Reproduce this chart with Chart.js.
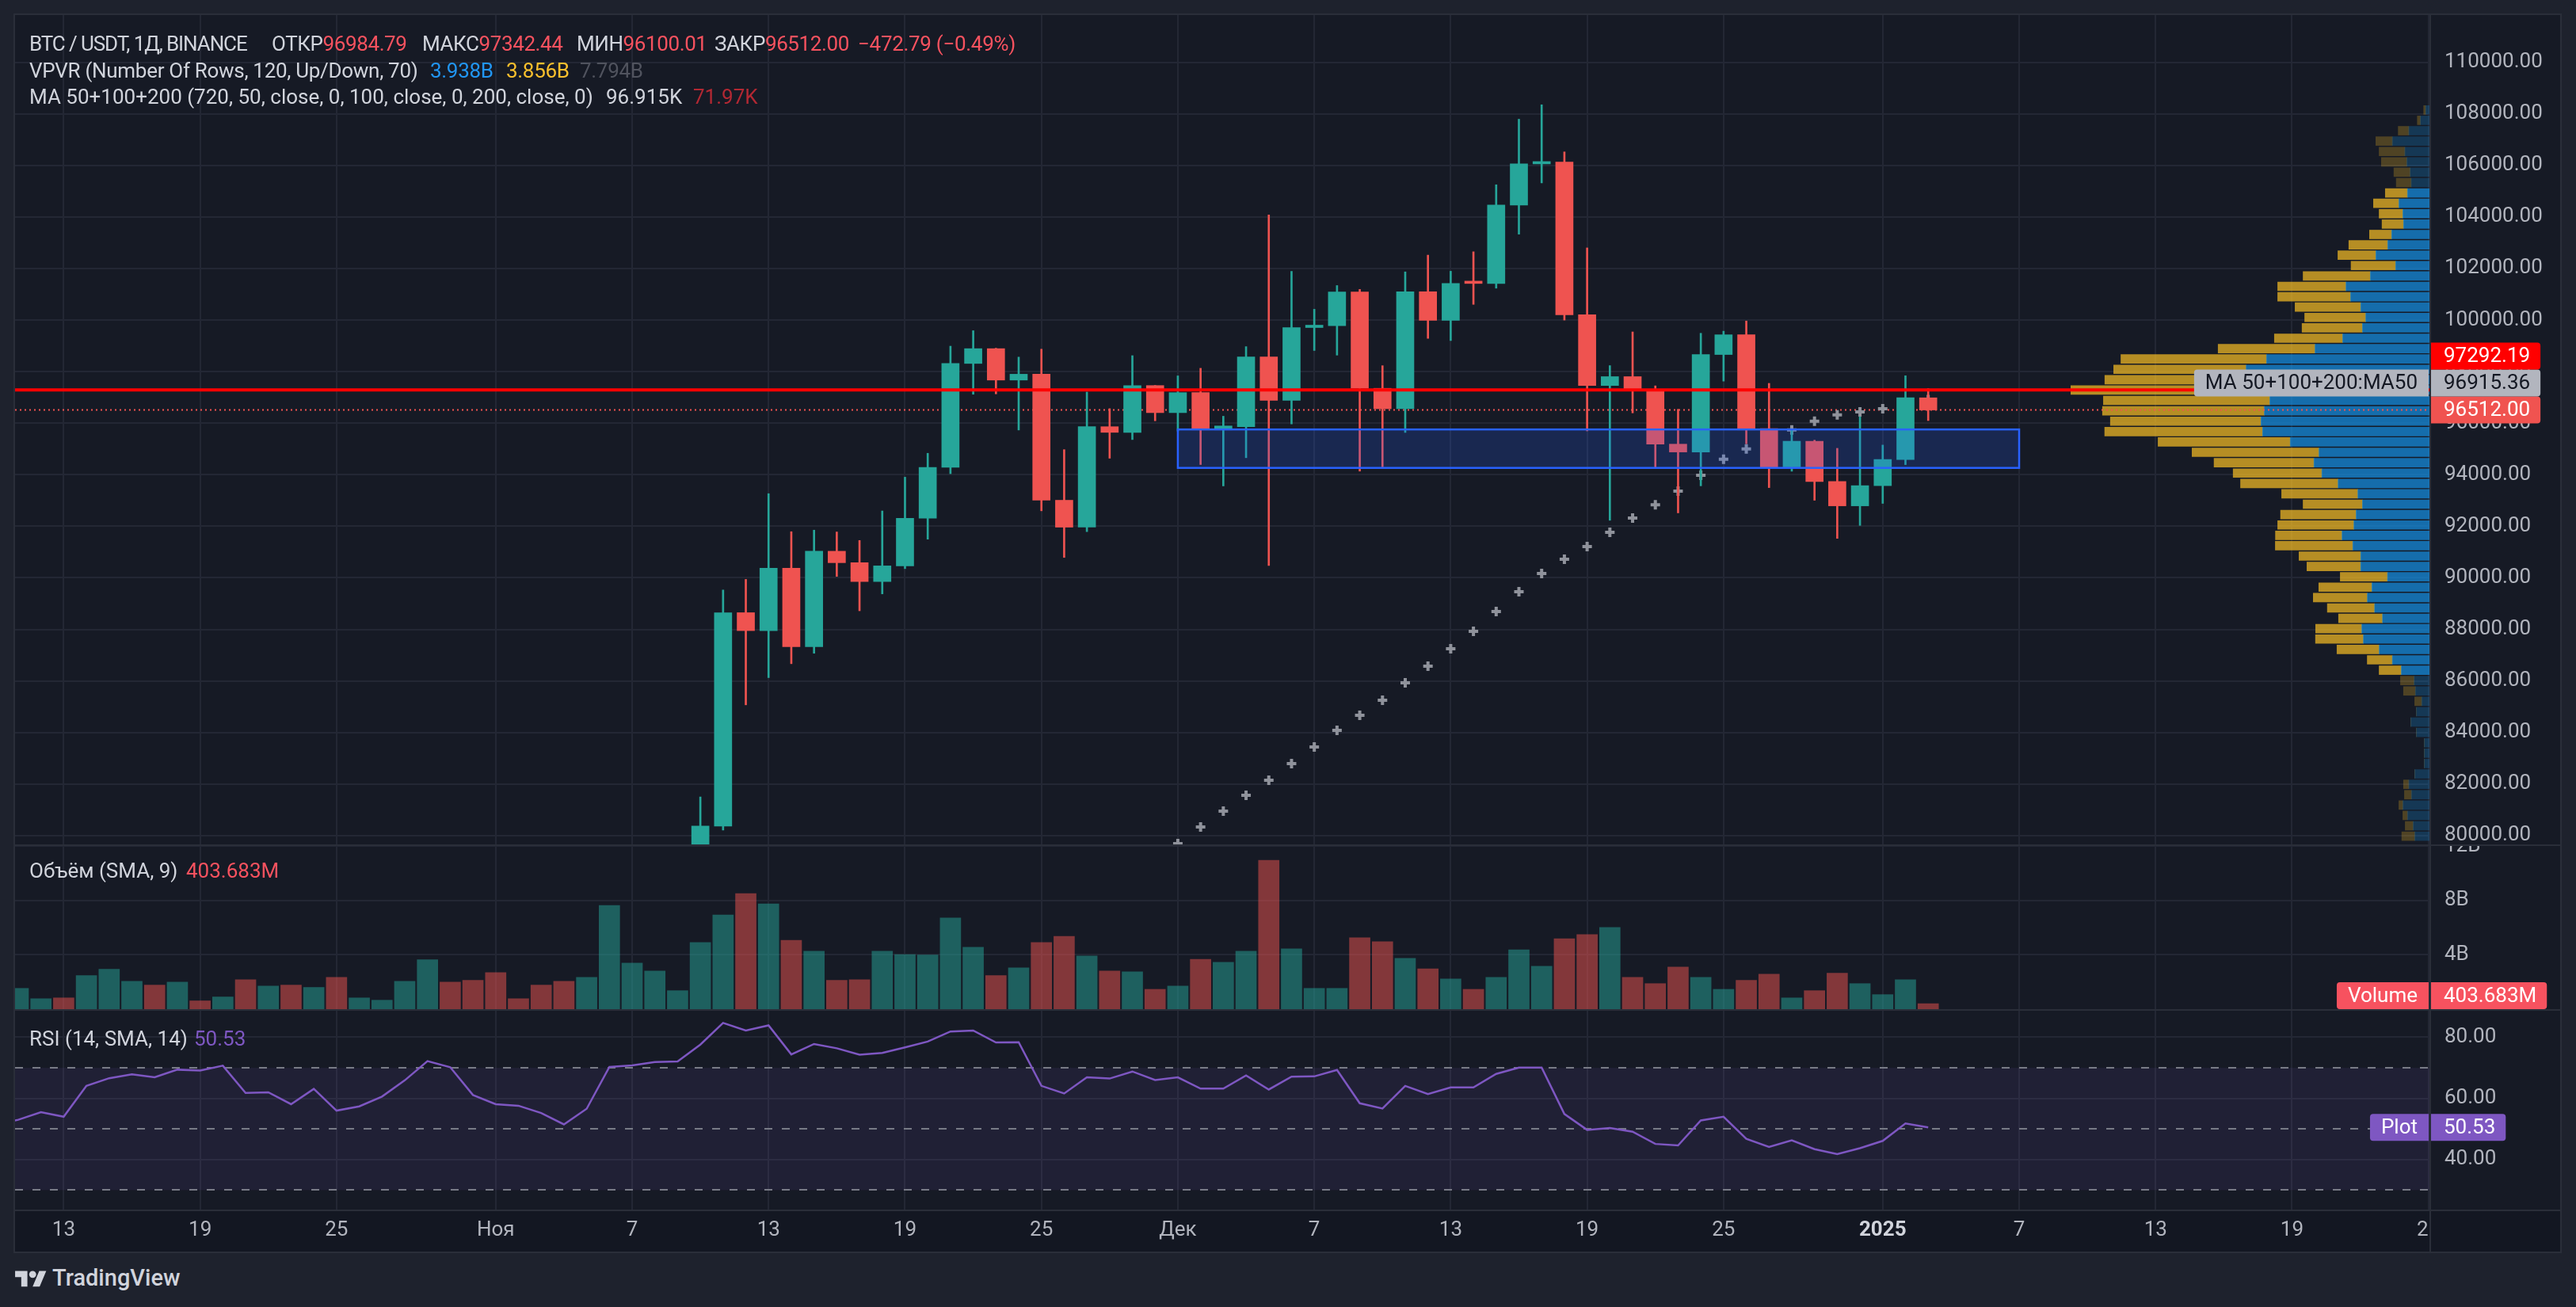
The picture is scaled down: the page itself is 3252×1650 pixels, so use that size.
<!DOCTYPE html>
<html lang="ru">
<head>
<meta charset="utf-8">
<title>BTC / USDT · 1Д · BINANCE</title>
<script src="https://cdn.jsdelivr.net/npm/chart.js@4.4.1/dist/chart.umd.min.js"></script>
<style>
  html, body { margin:0; padding:0; width:3252px; height:1650px; background:#1e222d; overflow:hidden; }
  body { position:relative; font-family: Roboto, "Noto Sans", "DejaVu Sans", sans-serif; }
  #frame { position:absolute; left:17px; top:17px; width:3217px; height:1565px; box-sizing:border-box; border:2px solid #2a2e39; background:#161a25; }
  #xstrip { position:absolute; left:19px; top:1529px; width:3213px; height:51px; background:#131722; }
  canvas { position:absolute; display:block; }
  .sep { position:absolute; background:#2a2e39; }
  .lg { position:absolute; left:0; font-size:26px; line-height:32px; color:#d1d4dc; white-space:pre; }
  .lg > span { position:absolute; top:0; }
  .lg i { font-style:normal; }
  .dn { color:#f7525f; }
  .bl { color:#2196f3; }
  .yl { color:#fbc02d; }
  .gr { color:#50535e; }
  .dr { color:#b22833; }
  .pu { color:#7e57c2; }
  #logo { position:absolute; left:19px; top:1600px; }
  #logotext { position:absolute; left:66px; top:1596px; font-size:29px; font-weight:500; color:#d1d4dc; }
</style>
</head>
<body>
<div id="frame"></div>
<div id="xstrip"></div>
<canvas id="priceChart" width="3213" height="1047" style="left:19px;top:19px;width:3213px;height:1047px"></canvas>
<canvas id="volumeChart" width="3213" height="206" style="left:19px;top:1068px;width:3213px;height:206px"></canvas>
<canvas id="rsiChart" width="3213" height="304" style="left:19px;top:1276px;width:3213px;height:304px"></canvas>
<div class="sep" style="left:19px;top:1066px;width:3213px;height:2px"></div>
<div class="sep" style="left:19px;top:1274px;width:3213px;height:2px"></div>
<div class="sep" style="left:19px;top:1527px;width:3213px;height:2px"></div>
<div class="sep" style="left:3067px;top:19px;width:2px;height:1561px"></div>
<div class="lg" id="row1" style="top:39px"></div>
<div class="lg" id="row2" style="top:73px"></div>
<div class="lg" id="row3" style="top:106px"></div>
<div class="lg" id="volLegend" style="top:1083px"></div>
<div class="lg" id="rsiLegend" style="top:1295px"></div>
<svg id="logo" width="40" height="31" viewBox="0 0 36 28"><path fill="#d1d4dc" d="M14 22H7V11H0V4h14v18zM28 22h-8l7.5-18h8L28 22z"/><circle fill="#d1d4dc" cx="20" cy="8" r="4"/></svg>
<div id="logotext">TradingView</div>
<script>
// ---------------- DATA ----------------
const symbolTitle = 'BTC / USDT, 1Д, BINANCE';

// daily candles, consecutive days starting at candleStart
const candleStart = '2024-11-10';
const candleOpen = [
  76677.46, 80370.01, 88647.99, 87952.00, 90375.21, 87325.59, 91032.08, 90587.98, 89855.98, 90464.07,
  92310.80, 94286.56, 98317.12, 98892.00, 97672.40, 97900.05, 93010.01, 91965.16, 95863.11, 95643.99, 97460.00,
  96407.99, 97185.17, 95800.00, 95860.00, 98570.00, 96882.00, 99710.00, 99780.00, 101090.00, 97353.00,
  96560.00, 101100.00, 99990.00, 101424.24, 101420.00, 104463.99, 106058.65, 106133.74, 100204.01, 97461.86,
  97805.44, 97292.00, 95186.28, 94881.47, 98663.58, 99429.61, 95791.60, 94299.03, 95300.00, 93738.19, 92792.05,
  93576.00, 94591.78, 96984.79
];
const candleHigh = [
  81500.00, 89530.54, 89940.00, 93265.64, 91790.00, 91850.00, 91779.66, 91449.99, 92594.98, 93905.51,
  94831.97, 98988.00, 99588.01, 98908.85, 98564.00, 98871.80, 94973.37, 97208.21, 96564.00, 98619.99, 97463.95,
  97836.00, 98130.00, 96270.00, 98970.00, 104082.00, 101890.00, 100420.00, 101340.00, 101190.00, 98230.00,
  101870.00, 102520.00, 101895.05, 102650.00, 105250.00, 107793.07, 108353.00, 106524.98, 102800.11, 98233.00,
  99540.61, 97448.08, 96538.92, 99487.99, 99569.15, 99963.70, 97544.58, 95733.99, 95340.00, 95024.50, 96250.00,
  95151.15, 97839.50, 97342.44
];
const candleLow = [
  76492.00, 80216.01, 85072.00, 86127.99, 86668.21, 87073.38, 90056.17, 88722.00, 89376.90, 90357.00,
  91500.00, 94040.00, 97122.11, 97136.00, 95734.77, 92600.19, 90791.10, 91792.14, 94640.00, 95364.99, 96092.01,
  95693.88, 94395.00, 93565.00, 94660.00, 90480.00, 95970.00, 98820.00, 98640.00, 94140.00, 94300.00,
  95640.00, 99290.00, 99205.00, 100609.41, 101237.14, 103333.00, 105321.49, 100000.00, 95700.00, 92232.54,
  96398.39, 94250.35, 92520.00, 93569.02, 97632.02, 95199.14, 93500.01, 94135.66, 93009.52, 91530.45, 92033.73,
  92888.00, 94392.00, 96100.01
];
const candleClose = [
  80370.01, 88647.99, 87952.01, 90375.20, 87325.59, 91032.07, 90586.92, 89855.99, 90464.08, 92310.79,
  94286.56, 98317.12, 98892.00, 97672.40, 97900.04, 93010.01, 91965.16, 95863.11, 95643.98, 97460.00, 96407.99,
  97185.18, 95800.00, 95860.00, 98570.00, 96882.00, 99710.00, 99780.00, 101090.00, 97353.00, 96560.00,
  101100.00, 99990.00, 101424.25, 101420.00, 104463.99, 106058.66, 106133.74, 100204.01, 97461.86, 97805.44,
  97291.99, 95186.27, 94881.47, 98663.58, 99429.60, 95791.60, 94299.03, 95300.00, 93738.20, 92792.05, 93576.00,
  94591.79, 96984.79, 96512.00
];

// MA 50 (cross markers), consecutive days from maStart
const maStart = '2024-12-01';
const ma50 = [
  79690, 80334, 80947, 81562, 82146, 82791, 83436, 84082, 84666, 85250, 85926, 86571, 87247, 87923, 88691, 89460,
  90167, 90719, 91213, 91765, 92318, 92834, 93363, 93978, 94603, 95003, 95370, 95735, 96078, 96320, 96440,
  96562, 96740, 96915.36
];
const ma100Last = 71970;

// Volume in billions, consecutive days from volumeStart
const volumeStart = '2024-10-11';
const volumeB = [
  1.53, 0.77, 0.83, 2.47, 2.93, 2.05, 1.77, 1.99, 0.61, 0.90, 2.16, 1.70, 1.77, 1.60, 2.34, 0.83, 0.66, 2.05, 3.63, 1.99, 2.12,
  2.69, 0.77, 1.77, 2.05, 2.34, 7.63, 3.39, 2.80, 1.36, 4.90, 6.93, 8.50, 7.74, 5.07, 4.26, 2.12, 2.16, 4.26, 4.02, 3.98,
  6.71, 4.55, 2.47, 3.04, 4.90, 5.36, 3.91, 2.80, 2.75, 1.46,
  1.70, 3.67, 3.45, 4.26, 10.95, 4.44, 1.53, 1.53, 5.25, 4.96, 3.74, 2.97, 2.23, 1.46, 2.34, 4.37, 3.15, 5.18, 5.49, 6.01,
  2.34, 1.88, 3.10, 2.34, 1.46, 2.12, 2.58, 0.83, 1.36, 2.64, 1.88,
  1.07, 2.16, 0.403683
];
// up(1)/down(0) for volume days before the first visible candle (Oct 11 .. Nov 9)
const volumeUpBeforeCandles = [1,1,0,1,1,1,0,1,0,1,0,1,0,1,0,1,1,1,1,0,0, 0,0,0,0,1,1,1,1,1];

// RSI(14), consecutive days from rsiStart
const rsiStart = '2024-10-10';
const rsiValues = [
  51.5, 53.0, 55.5, 54.0, 64.1, 66.6, 67.9, 66.9, 69.4, 69.1, 70.7, 61.8, 62.0, 58.1, 63.1, 56.0, 57.4, 60.6, 65.9, 72.2, 70.2, 61.1,
  58.1, 57.6, 55.2, 51.5, 56.6, 70.3, 70.8, 71.9, 72.1, 77.6, 84.7, 82.2, 83.9, 74.4, 77.8, 76.4, 74.3, 74.9, 76.7, 78.6,
  81.9, 82.2, 78.3, 78.4, 64.1, 61.6, 66.9, 66.5, 68.8, 66.0,
  66.9, 63.2, 63.2, 67.5, 62.9, 67.1, 67.2, 69.3, 58.4, 56.7, 64.1, 61.4, 63.6, 63.6, 68.0, 70.1, 70.1, 54.9, 49.7, 50.3,
  49.1, 45.1, 44.6, 52.8, 54.0, 46.8, 44.1, 46.3, 43.4, 41.8, 43.7,
  46.1, 51.8, 50.53
];
const rsiLevels = [70, 50, 30];

// VPVR rows (120 rows between vpvrLow and vpvrHigh); listed from the top row down (visible rows only)
const vpvrHigh = 108353, vpvrLow = 60053, vpvrRows = 120;
const vpvrUpM = [
  3.5, 7.5, 16.3, 28.8, 19.3, 17.8, 15.3, 14.5, 17.3, 23.8, 20.8, 20.3, 29.3, 32.3, 41.3, 26.3, 45.5, 64, 60.5, 52.8,
  49, 51.5, 66.5, 87.5, 124.3, 139.8, 140, 150, 121.8, 126, 128.5, 127.3, 106.3, 84.5, 88.3, 82.3, 70, 55, 51.5, 56.3,
  58, 67, 58.8, 52.8, 52.8, 32.5, 44.3, 47.8, 42.3, 36.3, 52, 50.8, 38.8, 28.8, 22, 12.3, 11.3, 6.5, 10.5, 14.8,
  10.5, 4.5, 4.5, 4.5, 11.8, 16.3, 14.3, 20.8, 17.3, 13, 11.8
];
const vpvrDownM = [
  1.5, 2.3, 8, 12.5, 19.5, 19.3, 12.3, 11.3, 16.8, 19.3, 18, 16.3, 16.8, 29.5, 28.8, 33.8, 51, 51.8, 55.3, 49.8,
  46.3, 45.8, 51.8, 73.5, 110.5, 100.5, 107, 122.8, 126.3, 122.8, 114.3, 119.8, 100.3, 96.3, 75.8, 67.3, 74, 57.8, 45, 57.3,
  57.8, 50.5, 58.8, 46.8, 40.8, 35.8, 40.3, 41, 35.8, 33.3, 35, 36.3, 32, 19, 16.8, 10.3, 9, 5.3, 0, 0,
  0, 0, 0, 0, 0, 4, 5.3, 3, 3.5, 6, 9.8
];
const vpvrValueArea = [8, 54];          // first / last row index inside the 70% value area
const vpvrTotalsB = [3.938, 3.856];     // up, down

// drawings
const hLinePrice = 97292.19;
const rectFrom = '2024-12-01', rectTo = '2025-01-07', rectLow = 94265, rectHigh = 95757;

// axes
const xTickDates  = ['2024-10-13','2024-10-19','2024-10-25','2024-11-01','2024-11-07','2024-11-13','2024-11-19','2024-11-25',
                     '2024-12-01','2024-12-07','2024-12-13','2024-12-19','2024-12-25','2025-01-01','2025-01-07','2025-01-13','2025-01-19','2025-01-25'];
const xTickLabels = ['13','19','25','Ноя','7','13','19','25','Дек','7','13','19','25','2025','7','13','19','25'];
const priceTicks  = [80000, 82000, 84000, 86000, 88000, 90000, 92000, 94000, 96000, 98000, 100000, 102000, 104000, 106000, 108000, 110000];
const volumeTicks = [4, 8, 12];
const rsiTicks    = [40, 60, 80];

// ---------------- HELPERS ----------------
const FONT = 'Roboto, "Noto Sans", "DejaVu Sans", sans-serif';
const UP = '#26a69a', DOWN = '#ef5350';
const GRID = '#232734';
const BASE = Date.UTC(2024, 9, 13);
const dayOf = s => { const [y, m, d] = s.split('-').map(Number); return (Date.UTC(y, m - 1, d) - BASE) / 86400000; };
const xViewMin = -2.139, xViewMax = 104.08;
const xTickDays = xTickDates.map(dayOf);

const lastClose = candleClose[candleClose.length - 1];
const prevClose = candleClose[candleClose.length - 2];

function xScale(showLabels) {
  return {
    type: 'linear', min: xViewMin, max: xViewMax, offset: false,
    grid: { color: GRID, lineWidth: 2, drawTicks: false, offset: false },
    border: { display: false },
    afterBuildTicks: s => { s.ticks = xTickDays.map(v => ({ value: v })); },
    ticks: {
      display: showLabels, autoSkip: false, maxRotation: 0, minRotation: 0, padding: 11,
      color: c => xTickLabels[c.index] === '2025' ? '#d1d4dc' : '#b2b5be',
      font: c => ({ family: FONT, size: 26, weight: xTickLabels[c.index] === '2025' ? 'bold' : 'normal' }),
      callback: (v, i) => xTickLabels[i]
    },
    afterFit: s => { s.height = showLabels ? 53 : 0; s.paddingLeft = 0; s.paddingRight = 0; }
  };
}
function yScale(min, max, ticks, fmt) {
  return {
    type: 'linear', position: 'right', min, max, offset: false,
    grid: { color: GRID, lineWidth: 2, drawTicks: false, offset: false },
    border: { display: false },
    afterBuildTicks: s => { s.ticks = ticks.map(v => ({ value: v })); },
    ticks: { color: '#b2b5be', font: { family: FONT, size: 26 }, padding: 18, crossAlign: 'near', callback: fmt },
    afterFit: s => { s.width = 164; s.paddingTop = 0; s.paddingBottom = 0; }
  };
}
function drawAxisTags(chart, items) {
  const { ctx, chartArea: a, scales: { y } } = chart;
  const h = 34;
  const placed = items.map(it => Object.assign({}, it, { py: y.getPixelForValue(it.value) })).sort((p, q) => q.py - p.py);
  let prev = Infinity;
  ctx.save();
  ctx.font = '26px ' + FONT;
  ctx.textBaseline = 'middle';
  for (const it of placed) {
    const cy = Math.min(it.py, a.bottom - h / 2, prev - h);
    prev = cy;
    const tw = ctx.measureText(it.text).width;
    const bx = a.right;
    ctx.fillStyle = it.bg;
    ctx.beginPath(); ctx.roundRect(bx, cy - h / 2, 18 + tw + 12, h, [0, 4, 4, 0]); ctx.fill();
    ctx.fillStyle = it.fg;
    ctx.fillText(it.text, bx + 17, cy + 1);
    if (it.tag) {
      const tw2 = ctx.measureText(it.tag).width;
      const w2 = tw2 + 28;
      const tx = a.right - 2 - w2;
      ctx.fillStyle = it.bg;
      ctx.beginPath(); ctx.roundRect(tx, cy - h / 2, w2, h, [4, 0, 0, 4]); ctx.fill();
      ctx.fillStyle = it.fg;
      ctx.fillText(it.tag, tx + 14, cy + 1);
    }
  }
  ctx.restore();
}

// ---------------- LEGENDS ----------------
function legendRow(id, parts) {
  // parts: [left, className, html, letterSpacing]
  document.getElementById(id).innerHTML = parts.map(p =>
    `<span class="${p[1]}" style="left:${p[0]}px;letter-spacing:${p[3] || 0}px">${p[2]}</span>`).join('');
}
function fillLegends() {
  const f2 = v => v.toFixed(2);
  const chg = lastClose - prevClose;
  const pct = chg / prevClose * 100;
  const sgn = v => (v < 0 ? '\u2212' : '+') + Math.abs(v).toFixed(2);
  const n = candleOpen.length - 1;
  const cls = chg < 0 ? 'dn' : 'bl';
  legendRow('row1', [
    [37, '', symbolTitle, -1.1],
    [343, '', `ОТКР<i class="${cls}">${f2(candleOpen[n])}</i>`, -0.4],
    [533, '', `МАКС<i class="${cls}">${f2(candleHigh[n])}</i>`, -0.4],
    [728, '', `МИН<i class="${cls}">${f2(candleLow[n])}</i>`, -0.4],
    [902, '', `ЗАКР<i class="${cls}">${f2(candleClose[n])}</i>`, -0.4],
    [1083, cls, `${sgn(chg)} (${sgn(pct)}%)`, -0.3]
  ]);
  const tot = vpvrTotalsB[0] + vpvrTotalsB[1];
  legendRow('row2', [
    [37, '', `VPVR (Number Of Rows, ${vpvrRows}, Up/Down, 70)`, -0.3],
    [543, 'bl', vpvrTotalsB[0].toFixed(3) + 'B', -0.3],
    [639, 'yl', vpvrTotalsB[1].toFixed(3) + 'B', -0.3],
    [732, 'gr', tot.toFixed(3) + 'B', -0.3]
  ]);
  legendRow('row3', [
    [37, '', 'MA 50+100+200 (720, 50, close, 0, 100, close, 0, 200, close, 0)'],
    [765, '', (ma50[ma50.length - 1] / 1000).toFixed(3) + 'K'],
    [875, 'dr', (ma100Last / 1000).toFixed(2) + 'K']
  ]);
  legendRow('volLegend', [
    [37, '', 'Объём (SMA, 9)'],
    [235, 'dn', (volumeB[volumeB.length - 1] * 1000).toFixed(3) + 'M']
  ]);
  legendRow('rsiLegend', [
    [37, '', 'RSI (14, SMA, 14)'],
    [245, 'pu', rsiValues[rsiValues.length - 1].toFixed(2)]
  ]);
}

// ---------------- CHARTS ----------------
function build() {
  fillLegends();
  const common = {
    responsive: false, animation: false, devicePixelRatio: 1, events: [],
    layout: { padding: 0, autoPadding: false },
    plugins: { legend: { display: false }, tooltip: { enabled: false } }
  };

  const c0 = dayOf(candleStart);
  const cData = candleOpen.map((o, i) => ({ day: c0 + i, o, h: candleHigh[i], l: candleLow[i], c: candleClose[i] }));
  const cCol = cData.map(d => d.c >= d.o ? UP : DOWN);
  const m0 = dayOf(maStart);
  const step = (vpvrHigh - vpvrLow) / vpvrRows;
  const rowPrice = vpvrUpM.map((_, k) => vpvrHigh - (k + 0.5) * step);
  const inVA = k => k >= vpvrValueArea[0] && k <= vpvrValueArea[1];
  const maxRow = Math.max(...vpvrUpM.map((u, k) => u + vpvrDownM[k]));

  const priceOverlay = {
    id: 'priceOverlay',
    afterDatasetsDraw(chart) {
      const { ctx, chartArea: a, scales: { x, y } } = chart;
      const x0 = x.getPixelForValue(dayOf(rectFrom)), x1 = x.getPixelForValue(dayOf(rectTo));
      const y0 = y.getPixelForValue(rectHigh), y1 = y.getPixelForValue(rectLow);
      ctx.save();
      ctx.beginPath(); ctx.rect(a.left, a.top, a.right - a.left, a.bottom - a.top); ctx.clip();
      ctx.fillStyle = 'rgba(41,98,255,0.2)';
      ctx.fillRect(x0, y0, x1 - x0, y1 - y0);
      ctx.strokeStyle = '#2962ff'; ctx.lineWidth = 2.5;
      ctx.strokeRect(x0, y0, x1 - x0, y1 - y0);
      ctx.restore();
    },
    afterDraw(chart) {
      drawAxisTags(chart, [
        { value: hLinePrice, text: hLinePrice.toFixed(2), bg: '#ff0000', fg: '#ffffff' },
        { value: ma50[ma50.length - 1], text: ma50[ma50.length - 1].toFixed(2), bg: '#b2b5be', fg: '#131722', tag: 'MA 50+100+200:MA50' },
        { value: lastClose, text: lastClose.toFixed(2), bg: '#f05350', fg: '#ffffff' }
      ]);
    }
  };

  new Chart(document.getElementById('priceChart'), {
    type: 'bar',
    data: {
      datasets: [
        { type: 'line', label: 'Горизонтальная линия', data: [{ x: xViewMin, y: hLinePrice }, { x: xViewMax, y: hLinePrice }],
          borderColor: '#ff0000', borderWidth: 4, pointRadius: 0, order: -1 },
        { type: 'bar', label: 'Тело', data: cData.map(d => ({ x: d.day, y: [d.o, d.c] })),
          backgroundColor: cCol, barThickness: 22, grouped: false, minBarLength: 3, borderWidth: 0, order: 0 },
        { type: 'bar', label: 'Тень', data: cData.map(d => ({ x: d.day, y: [d.l, d.h] })),
          backgroundColor: cCol, barThickness: 2, grouped: false, borderWidth: 0, order: 1 },
        { type: 'line', label: 'MA50', data: ma50.map((v, i) => ({ x: m0 + i, y: v })), showLine: false,
          pointStyle: 'cross', pointRadius: 6, pointBorderWidth: 4, pointBorderColor: '#8f929b', pointBackgroundColor: '#8f929b', order: 2 },
        { type: 'line', label: 'Цена', data: [{ x: xViewMin, y: lastClose }, { x: xViewMax, y: lastClose }],
          borderColor: '#ef5350', borderWidth: 2, borderDash: [2, 4], pointRadius: 0, order: 3 },
        { type: 'bar', label: 'VPVR Up', indexAxis: 'y', xAxisID: 'xv', yAxisID: 'y',
          data: vpvrUpM.map((u, k) => ({ y: rowPrice[k], x: [0, u] })),
          backgroundColor: vpvrUpM.map((u, k) => inVA(k) ? 'rgba(21,146,230,0.7)' : 'rgba(21,146,230,0.25)'),
          barThickness: 11, grouped: false, borderWidth: 0, order: 10 },
        { type: 'bar', label: 'VPVR Down', indexAxis: 'y', xAxisID: 'xv', yAxisID: 'y',
          data: vpvrDownM.map((dn, k) => ({ y: rowPrice[k], x: [vpvrUpM[k], vpvrUpM[k] + dn] })),
          backgroundColor: vpvrDownM.map((dn, k) => inVA(k) ? 'rgba(251,193,35,0.7)' : 'rgba(251,193,35,0.25)'),
          barThickness: 11, grouped: false, borderWidth: 0, order: 11 }
      ]
    },
    options: Object.assign({}, common, {
      scales: {
        x: xScale(false),
        xv: { type: 'linear', axis: 'x', display: false, reverse: true, min: 0, max: maxRow / 0.1488, offset: false, grid: { offset: false } },
        y: yScale(79658, 111834, priceTicks, v => v.toFixed(2))
      }
    }),
    plugins: [priceOverlay]
  });

  const v0 = dayOf(volumeStart);
  const volUp = volumeB.map((_, i) => {
    const day = v0 + i;
    const ci = day - c0;
    if (ci >= 0) return cData[ci].c >= cData[ci].o;
    return volumeUpBeforeCandles[i] === 1;
  });
  new Chart(document.getElementById('volumeChart'), {
    type: 'bar',
    data: {
      datasets: [{
        label: 'Объём', data: volumeB.map((v, i) => ({ x: v0 + i, y: v })),
        backgroundColor: volUp.map(u => u ? 'rgba(38,166,154,0.5)' : 'rgba(239,83,80,0.5)'),
        barThickness: 26, grouped: false, borderWidth: 0
      }]
    },
    options: Object.assign({}, common, {
      scales: { x: xScale(false), y: yScale(0, 12, volumeTicks, v => v + 'B') }
    }),
    plugins: [{
      id: 'volTag',
      afterDraw(chart) {
        const v = volumeB[volumeB.length - 1];
        drawAxisTags(chart, [{ value: v, text: (v * 1000).toFixed(3) + 'M', bg: '#f7525f', fg: '#ffffff', tag: 'Volume' }]);
      }
    }]
  });

  const r0 = dayOf(rsiStart);
  new Chart(document.getElementById('rsiChart'), {
    type: 'line',
    data: {
      datasets: [{
        label: 'RSI', data: rsiValues.map((v, i) => ({ x: r0 + i, y: v })),
        borderColor: '#7e57c2', borderWidth: 2.5, pointRadius: 0, tension: 0
      }]
    },
    options: Object.assign({}, common, {
      scales: { x: xScale(true), y: yScale(23.62, 88.68, rsiTicks, v => v.toFixed(2)) }
    }),
    plugins: [{
      id: 'rsiBand',
      beforeDatasetsDraw(chart) {
        const { ctx, chartArea: a, scales: { y } } = chart;
        const yt = y.getPixelForValue(Math.max(...rsiLevels)), yb = y.getPixelForValue(Math.min(...rsiLevels));
        ctx.save();
        ctx.fillStyle = 'rgba(126,87,194,0.1)';
        ctx.fillRect(a.left, yt, a.right - a.left, yb - yt);
        ctx.strokeStyle = '#787b86'; ctx.lineWidth = 2; ctx.setLineDash([10, 12]);
        for (const lv of rsiLevels) {
          const py = Math.round(y.getPixelForValue(lv));
          ctx.beginPath(); ctx.moveTo(a.left, py); ctx.lineTo(a.right, py); ctx.stroke();
        }
        ctx.restore();
      },
      afterDraw(chart) {
        const { ctx, chartArea: a, width, height } = chart;
        ctx.save();
        ctx.fillStyle = '#131722';
        ctx.fillRect(a.right + 1, a.bottom + 2, width - a.right, height - a.bottom);
        ctx.restore();
        const v = rsiValues[rsiValues.length - 1];
        drawAxisTags(chart, [{ value: v, text: v.toFixed(2), bg: '#7e57c2', fg: '#ffffff', tag: 'Plot' }]);
      }
    }]
  });
}

const fontsReady = (document.fonts && document.fonts.load)
  ? Promise.all([document.fonts.load('26px Roboto'), document.fonts.load('bold 26px Roboto')]).catch(() => null)
  : Promise.resolve();
fontsReady.then(build, build);
</script>
</body>
</html>
